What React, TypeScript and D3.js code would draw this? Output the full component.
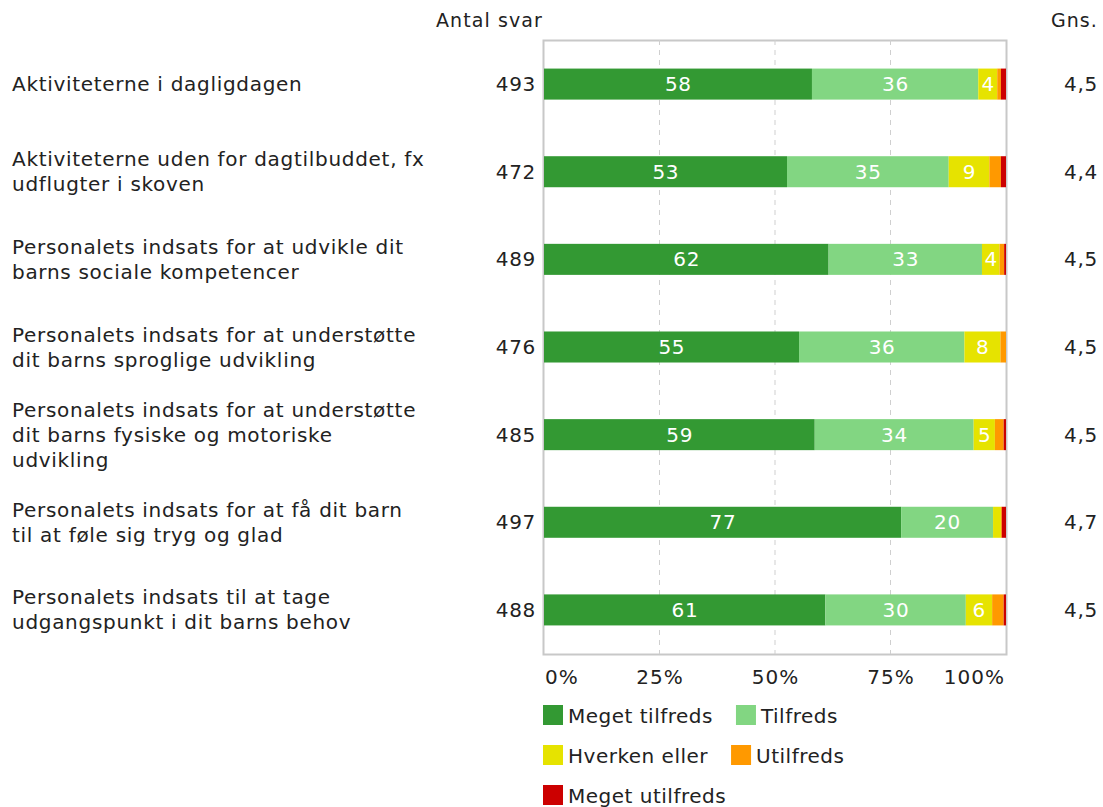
import React, { useEffect, useMemo } from "react";
import * as d3 from "d3";

const categories: string[][] = [
  ["Aktiviteterne i dagligdagen"],
  ["Aktiviteterne uden for dagtilbuddet, fx", "udflugter i skoven"],
  ["Personalets indsats for at udvikle dit", "barns sociale kompetencer"],
  ["Personalets indsats for at understøtte", "dit barns sproglige udvikling"],
  ["Personalets indsats for at understøtte", "dit barns fysiske og motoriske", "udvikling"],
  ["Personalets indsats for at få dit barn", "til at føle sig tryg og glad"],
  ["Personalets indsats til at tage", "udgangspunkt i dit barns behov"],
];
const antalSvar = [493, 472, 489, 476, 485, 497, 488];
const gns = [4.5, 4.4, 4.5, 4.5, 4.5, 4.7, 4.5];

const seriesNames = ["Meget tilfreds", "Tilfreds", "Hverken eller", "Utilfreds", "Meget utilfreds"];
const megetTilfreds = [58.0, 52.6, 61.6, 55.2, 58.6, 77.3, 60.9];
const tilfreds = [36.0, 35.0, 33.2, 35.8, 34.4, 19.9, 30.4];
const hverkenEller = [4.1, 8.8, 3.8, 7.8, 4.6, 1.7, 5.7];
const utilfreds = [0.8, 2.5, 1.0, 1.2, 1.9, 0.2, 2.5];
const megetUtilfreds = [1.1, 1.1, 0.4, 0.0, 0.5, 0.9, 0.5];
const seriesValues = [megetTilfreds, tilfreds, hverkenEller, utilfreds, megetUtilfreds];
const colors = ["#339933", "#82d682", "#e6e300", "#ff9900", "#cc0000"];
const ticks = [0, 25, 50, 75, 100];

const FONT = "'DejaVu Sans', Verdana, sans-serif";
const LS = 0.7;

export default function App() {
  useEffect(() => {
    document.body.style.margin = "0";
  }, []);

  const W = 1103;
  const H = 807;
  const left = 544;
  const right = 1006;
  const top = 40;
  const bottom = 654;

  const x = d3.scaleLinear().domain([0, 100]).range([left, right]);
  const idx = categories.map((_, i) => String(i));
  const y = d3
    .scaleBand<string>()
    .domain(idx)
    .range([top, bottom])
    .paddingInner(0.646)
    .paddingOuter(0.326);

  const rows = categories.map((_, i) => {
    let acc = 0;
    return seriesValues.map((vals, s) => {
      const v = vals[i];
      const x0 = acc;
      acc += v;
      return { s, v, x0, x1: acc };
    });
  });

  const legendItems = useMemo(() => {
    const canvas = document.createElement("canvas");
    const ctx = canvas.getContext("2d")!;
    ctx.font = `20px ${FONT}`;
    const maxW = right - left + 2;
    let cx = left - 1;
    let row = 0;
    return seriesNames.map((name, i) => {
      const tw = ctx.measureText(name).width + name.length * 0.5;
      const w = 25 + tw;
      if (cx + w > left - 1 + maxW && cx > left - 1) {
        cx = left - 1;
        row += 1;
      }
      const item = { name, i, x: cx, row };
      cx += w + 23;
      return item;
    });
  }, []);

  const bw = y.bandwidth();
  const lineH = 25;

  return (
    <svg width={W} height={H} style={{ display: "block", fontFamily: FONT }}>
      <rect x={0} y={0} width={W} height={H} fill="#fff" />
      {/* headers */}
      <text x={543} y={27} textAnchor="end" fontSize={19} letterSpacing={1.1} fill="#222">
        Antal svar
      </text>
      <text x={1098} y={27} textAnchor="end" fontSize={19} letterSpacing={1.1} fill="#222">
        Gns.
      </text>

      {/* frame */}
      <rect
        x={left - 0.5}
        y={top + 0.5}
        width={right - left + 1}
        height={bottom - top}
        fill="none"
        stroke="#c8c8c8"
        strokeWidth={2}
      />
      {ticks.slice(1, -1).map((t) => (
        <line
          key={t}
          x1={x(t)}
          x2={x(t)}
          y1={top}
          y2={bottom}
          stroke="#cfcfcf"
          strokeWidth={1}
          strokeDasharray="5,5"
        />
      ))}

      {/* bars */}
      {rows.map((segs, i) => {
        const y0 = y(String(i))!;
        const cy = y0 + bw / 2;
        return (
          <g key={i}>
            {segs.map((d) =>
              d.v > 0 ? (
                <rect
                  key={d.s}
                  x={x(d.x0)}
                  y={y0}
                  width={x(d.x1) - x(d.x0)}
                  height={bw}
                  fill={colors[d.s]}
                />
              ) : null
            )}
            {segs.map((d) =>
              d.v >= 3.5 ? (
                <text
                  key={"t" + d.s}
                  x={(x(d.x0) + x(d.x1)) / 2 + LS / 2}
                  y={cy + 7}
                  textAnchor="middle"
                  fontSize={20}
                  letterSpacing={LS}
                  fill="#ffffff"
                >
                  {Math.round(d.v)}
                </text>
              ) : null
            )}
            <text x={536} y={cy + 7} textAnchor="end" fontSize={20} letterSpacing={LS} fill="#222">
              {antalSvar[i]}
            </text>
            <text x={1098} y={cy + 7} textAnchor="end" fontSize={20} letterSpacing={LS} fill="#222">
              {gns[i].toFixed(1).replace(".", ",")}
            </text>
            {categories[i].map((line, k) => (
              <text
                key={k}
                x={12}
                y={cy + 7 + (k - (categories[i].length - 1) / 2) * lineH}
                fontSize={20}
                letterSpacing={LS}
                fill="#222"
              >
                {line}
              </text>
            ))}
          </g>
        );
      })}

      {/* axis tick labels */}
      {ticks.map((t, k) => (
        <text
          key={t}
          x={k === 0 ? x(t) + 1 : k === ticks.length - 1 ? x(t) - 1 : x(t) + 0.5}
          y={684}
          textAnchor={k === 0 ? "start" : k === ticks.length - 1 ? "end" : "middle"}
          fontSize={20}
          letterSpacing={1}
          fill="#222"
        >
          {t}%
        </text>
      ))}

      {/* legend */}
      {legendItems.map((it) => {
        const ly = 705 + it.row * 40;
        return (
          <g key={it.name}>
            <rect x={it.x} y={ly} width={20} height={20} fill={colors[it.i]} />
            <text x={it.x + 25} y={ly + 18} fontSize={20} letterSpacing={0.5} fill="#222">
              {it.name}
            </text>
          </g>
        );
      })}
    </svg>
  );
}
